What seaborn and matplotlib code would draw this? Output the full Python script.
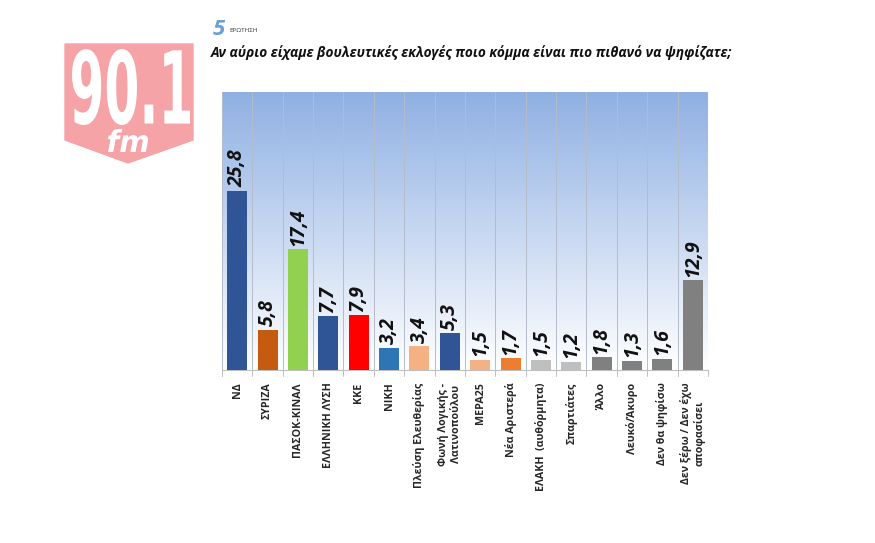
import numpy as np
import matplotlib
matplotlib.use('Agg')
import matplotlib.pyplot as plt
import seaborn as sns
from matplotlib.patches import Polygon, PathPatch
from matplotlib.textpath import TextPath
from matplotlib.font_manager import FontProperties
from matplotlib.transforms import Affine2D

parties = ['ΝΔ', 'ΣΥΡΙΖΑ', 'ΠΑΣΟΚ-ΚΙΝΑΛ', 'ΕΛΛΗΝΙΚΗ ΛΥΣΗ', 'ΚΚΕ', 'ΝΙΚΗ',
           'Πλεύση Ελευθερίας', 'Φωνή Λογικής -\nΛατινοπούλου', 'ΜΕΡΑ25',
           'Νέα Αριστερά', 'ΕΛΑΚΗ  (αυθόρμητα)', 'Σπαρτιάτες', 'Άλλο',
           'Λευκό/Άκυρο', 'Δεν θα ψηφίσω', 'Δεν ξέρω / Δεν έχω\nαποφασίσει']
values = [25.8, 5.8, 17.4, 7.7, 7.9, 3.2, 3.4, 5.3, 1.5, 1.7, 1.5, 1.2, 1.8, 1.3, 1.6, 12.9]
colors = ['#2f5597', '#c55a11', '#92d050', '#2f5597', '#ff0000', '#2e75b6',
          '#f4b183', '#2f5597', '#f4b183', '#ed7d31', '#bfbfbf', '#bfbfbf',
          '#808080', '#808080', '#808080', '#808080']

title = 'Αν αύριο είχαμε βουλευτικές εκλογές ποιο κόμμα είναι πιο πιθανό να ψηφίζατε;'

sns.set_style('white')
plt.rcParams['font.family'] = ['Open Sans', 'DejaVu Sans']

W, H = 875, 543
fig = plt.figure(figsize=(8.75, 5.43), dpi=100)
ax = fig.add_axes([0.2537, 0.3186, 0.5554, 0.512])

# gradient background: blue at top fading to white
grad = np.linspace(0, 1, 256).reshape(-1, 1)
top = np.array([0.56, 0.69, 0.89])
img = np.ones((256, 1, 3)) * (1 - grad[..., None]) + top * grad[..., None]
img = np.clip(img, 0, 1)
ax.imshow(img, extent=[-0.5, len(parties) - 0.5, 0, 40], origin='lower',
          aspect='auto', zorder=0)

sns.barplot(x=list(range(len(parties))), y=values, hue=list(range(len(parties))),
            palette=colors, width=0.66, legend=False, ax=ax, zorder=3,
            saturation=1, linewidth=0)

for i, v in enumerate(values):
    ax.text(i, v + 0.5, f'{v:.1f}'.replace('.', ','), rotation=90,
            ha='center', va='bottom', fontsize=14, fontweight='bold',
            style='italic', color='#111111', zorder=4)

for b in np.arange(-0.5, len(parties), 1.0):
    ax.axvline(b, color='#b4bccb', lw=0.7, zorder=1)

ax.set_xlim(-0.5, len(parties) - 0.5)
ax.set_ylim(0, 40)
ax.set_yticks([])
ax.set_xticks(range(len(parties)))
ax.set_xticklabels(parties, rotation=90, fontsize=7.7, fontweight='bold',
                   multialignment='center')
ax.tick_params(axis='x', length=0, pad=9)
for s in ['top', 'right', 'left']:
    ax.spines[s].set_visible(False)
ax.spines['bottom'].set_color('#bfbfbf')

# small tick marks under the baseline
for b in np.arange(-0.5, len(parties), 1.0):
    ax.plot([b, b], [0, -0.8], color='#bfbfbf', lw=0.7, clip_on=False)

# header
fig.text(0.243, 0.945, '5', fontsize=16, fontweight='bold', style='italic',
         color='#6a9fd4', ha='left', va='center')
fig.text(0.262, 0.943, 'ΕΡΩΤΗΣΗ', fontsize=4.5, color='#333333',
         ha='left', va='center')
fig.text(0.241, 0.903, title, fontsize=9.8, fontweight='bold', style='italic',
         ha='left', va='center', color='#111111')

# 90.1 fm logo (pixel coords, y measured from the top of the image)
pink = '#f5a3a6'
pts = [(65, 44), (193, 44), (193, 140), (128, 163), (65, 140)]
shield = Polygon([(x / W, 1 - y / H) for x, y in pts], closed=True,
                 transform=fig.transFigure, color=pink, zorder=0)
fig.patches.append(shield)


def logo_text(s, box, fp):
    # draw text path stretched into a pixel box (x0, y0_top, x1, y1_bottom)
    path = TextPath((0, 0), s, size=50, prop=fp)
    ext = path.get_extents()
    x0, yt, x1, yb = box
    sx = (x1 - x0) / ext.width
    sy = (yb - yt) / ext.height
    tr = (Affine2D().translate(-ext.x0, -ext.y0).scale(sx, sy)
          .translate(x0, H - yb).scale(1 / W, 1 / H))
    fig.patches.append(PathPatch(path, transform=tr + fig.transFigure,
                                 color='white', lw=0, zorder=1))


logo_text('90.1', (72, 49, 190, 125), FontProperties(family='DejaVu Sans', weight='bold'))
logo_text('fm', (108, 129, 148, 152),
          FontProperties(family='DejaVu Sans', weight='bold', style='italic'))

fig.savefig('out.png', dpi=100)
